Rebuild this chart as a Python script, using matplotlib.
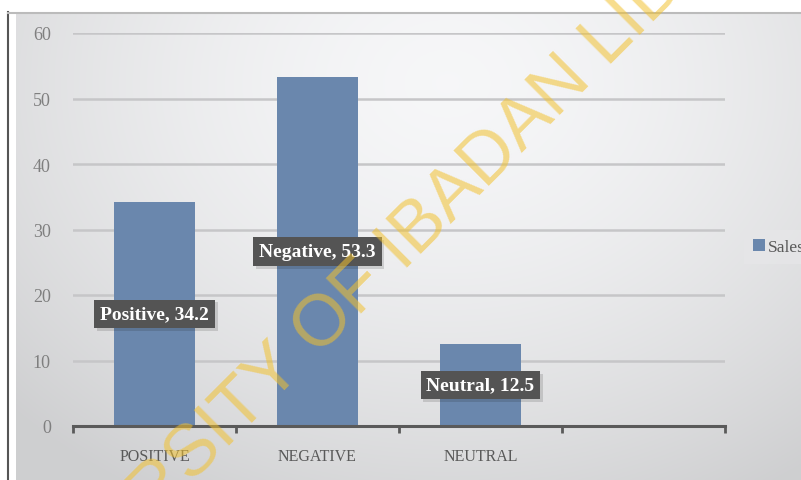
import numpy as np
import matplotlib.pyplot as plt
import matplotlib.patheffects as pe

# data
categories = ['POSITIVE', 'NEGATIVE', 'NEUTRAL', '']
values = [34.2, 53.3, 12.5, np.nan]
label_names = ['Positive', 'Negative', 'Neutral']
series_name = 'Sales'

W, H = 801, 481
fig = plt.figure(figsize=(W / 100, H / 100), dpi=100)
fig.patch.set_facecolor('white')

# gradient background of the chart area
bg = fig.add_axes([16 / W, 0, 1 - 16 / W, 1 - 14 / H])
bg.set_axis_off()
yy, xx = np.mgrid[0:1:300j, 0:1:500j]
r = np.sqrt(((xx - 0.55) / 0.75) ** 2 + ((yy - 0.15) / 1.0) ** 2)
shade = np.clip(0.965 - 0.15 * r ** 1.6, 0.81, 0.97)
img = np.dstack([shade, shade + 0.002, shade + 0.008])
bg.imshow(np.clip(img, 0, 1), aspect='auto', extent=[0, 1, 1, 0])
bg.set_xlim(0, 1)
bg.set_ylim(1, 0)

# frame lines of the embedded chart
fig.add_artist(plt.Line2D([8 / W, 8 / W], [0, 1 - 13 / H], color='#555555', lw=1.5))
fig.add_artist(plt.Line2D([8 / W, 1], [1 - 13.5 / H, 1 - 13.5 / H], color='#BBBBBB', lw=1.5))

ax = fig.add_axes([73 / W, 1 - 427 / H, 652 / W, 393 / H])
ax.patch.set_alpha(0)
x = np.arange(len(categories))
bars = ax.bar(x, values, width=0.5, color='#6A87AD', label=series_name, zorder=3)

ax.set_xlim(-0.5, len(categories) - 0.5)
ax.set_ylim(0, 60)
ax.set_yticks(np.arange(0, 61, 10))
ax.yaxis.grid(True, color='#C6C6C8', lw=1.8, zorder=0)
ax.set_axisbelow(True)
for s in ['top', 'right', 'left']:
    ax.spines[s].set_visible(False)
ax.spines['bottom'].set_color('#5A5A5A')
ax.spines['bottom'].set_linewidth(2.2)
ax.spines['bottom'].set_zorder(4)

ax.set_xticks(x)
ax.set_xticklabels(categories, fontsize=11.5, color='#595959', family='Liberation Serif')
ax.tick_params(axis='x', which='major', length=0, pad=16)
ax.set_xticks(np.arange(-0.5, len(categories), 1), minor=True)
ax.tick_params(axis='x', which='minor', length=5, width=2, color='#5A5A5A', direction='out')
ax.tick_params(axis='y', length=0, pad=16, labelsize=13, labelcolor='#7F7F7F')
for t in ax.get_yticklabels():
    t.set_family('Liberation Serif')

# data labels
for i, name in enumerate(label_names):
    txt = ax.text(x[i], values[i] / 2, f'{name}, {values[i]}', ha='center', va='center',
                  fontsize=14, fontweight='bold', color='white', family='Liberation Serif',
                  zorder=5,
                  bbox=dict(boxstyle='square,pad=0.3', facecolor='#545454', edgecolor='none'))
    txt.get_bbox_patch().set_path_effects([pe.withSimplePatchShadow(offset=(2, -2), alpha=0.15)])

leg = ax.legend(loc='center left', bbox_to_anchor=(744 / W, 1 - 248 / H),
                bbox_transform=fig.transFigure, frameon=True, fancybox=False,
                facecolor='#E6E6E8', edgecolor='none', framealpha=0.8,
                handlelength=0.7, handleheight=0.7, handletextpad=0.2,
                borderpad=0.5, borderaxespad=0, prop={'family': 'Liberation Serif', 'size': 12.5})
for t in leg.get_texts():
    t.set_color('#595959')

# watermark
fig.text(398 / W, 1 - 250 / H, 'UNIVERSITY OF IBADAN LIBRARY', rotation=45,
         ha='center', va='center', rotation_mode='anchor', fontsize=52,
         family='Liberation Sans', color='#F2C12E', alpha=0.55, zorder=10)

fig.savefig('out.png', dpi=100)
